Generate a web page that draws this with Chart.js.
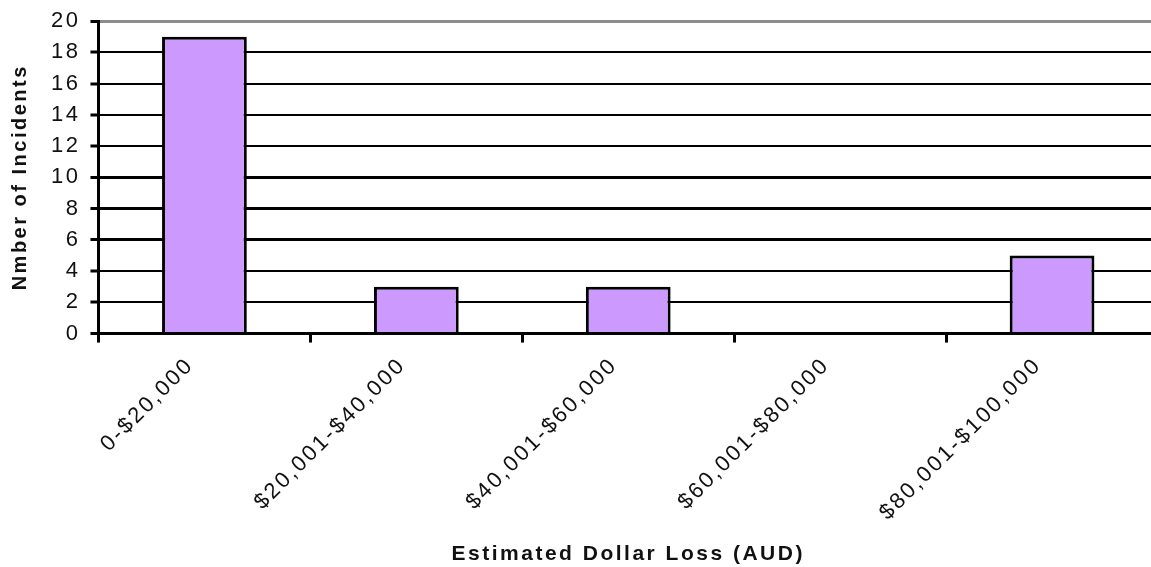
<!DOCTYPE html>
<html>
<head>
<meta charset="utf-8">
<title>Estimated Dollar Loss</title>
<script src="https://cdn.jsdelivr.net/npm/chart.js@4/dist/chart.umd.min.js"></script>
<style>
    html, body { margin: 0; padding: 0; background: #fff; overflow: hidden; }
    #wrap { width: 1158px; height: 567px; }
</style>
</head>
<body>
<div id="wrap"><canvas id="lossChart" width="1158" height="567"></canvas></div>
<script>
// Data grafik
const categories = ['0-$20,000', '$20,001-$40,000', '$40,001-$60,000', '$60,001-$80,000', '$80,001-$100,000'];
const incidents = [19, 3, 3, 0, 5];
const yMax = 20;
const yStep = 2;

// Garis grid: sebagian lebih tebal, garis paling atas abu-abu
const thickLines = [0, 6, 8, 10];

// Semua teks dengan jarak huruf agak lebar
const letterSpacingPlugin = {
    id: 'letterSpacing',
    beforeUpdate(chart) { chart.ctx.letterSpacing = '2.5px'; },
    beforeLayout(chart) { chart.ctx.letterSpacing = '2.5px'; },
    beforeDraw(chart) { chart.ctx.letterSpacing = '2.5px'; }
};

const fontFamily = 'Liberation Sans';

const ctx = document.getElementById('lossChart').getContext('2d');
new Chart(ctx, {
    type: 'bar',
    data: {
        labels: categories,
        datasets: [{
            label: 'Incidents',
            data: incidents,
            backgroundColor: '#CC99FF',
            borderColor: '#000000',
            borderWidth: 3,
            borderSkipped: 'bottom',
            barPercentage: 0.4,
            categoryPercentage: 1.0
        }]
    },
    plugins: [letterSpacingPlugin],
    options: {
        responsive: false,
        animation: false,
        layout: {
            padding: { left: 8, top: 0, right: 0, bottom: 0 }
        },
        plugins: {
            legend: { display: false },
            tooltip: { enabled: false }
        },
        scales: {
            x: {
                grid: {
                    offset: true,
                    drawOnChartArea: false,
                    drawTicks: true,
                    tickLength: 9,
                    tickWidth: 3,
                    tickColor: '#000'
                },
                border: { color: '#000', width: 3 },
                ticks: {
                    color: '#111',
                    font: { family: fontFamily, size: 22 },
                    maxRotation: 45,
                    minRotation: 45,
                    padding: 10,
                    labelOffset: -14
                },
                title: {
                    display: true,
                    text: 'Estimated Dollar Loss (AUD)',
                    color: '#111',
                    font: { family: fontFamily, size: 21, weight: 'bold' },
                    padding: { top: 6, bottom: 0 }
                }
            },
            y: {
                min: 0,
                max: yMax,
                ticks: {
                    stepSize: yStep,
                    color: '#111',
                    font: { family: fontFamily, size: 22, lineHeight: 1.0 },
                    padding: 10
                },
                grid: {
                    color: function(c) {
                        return c.tick && c.tick.value === yMax ? '#8c8c8c' : '#000';
                    },
                    lineWidth: function(c) {
                        if (!c.tick) return 2;
                        return (c.tick.value === yMax || thickLines.includes(c.tick.value)) ? 3 : 2;
                    },
                    tickLength: 8,
                    tickWidth: 3,
                    tickColor: '#000'
                },
                border: { color: '#000', width: 3 },
                title: {
                    display: true,
                    text: 'Nmber of Incidents',
                    color: '#111',
                    font: { family: fontFamily, size: 20, weight: 'bold' },
                    padding: { top: 0, bottom: 9 }
                }
            }
        }
    }
});
</script>
</body>
</html>
